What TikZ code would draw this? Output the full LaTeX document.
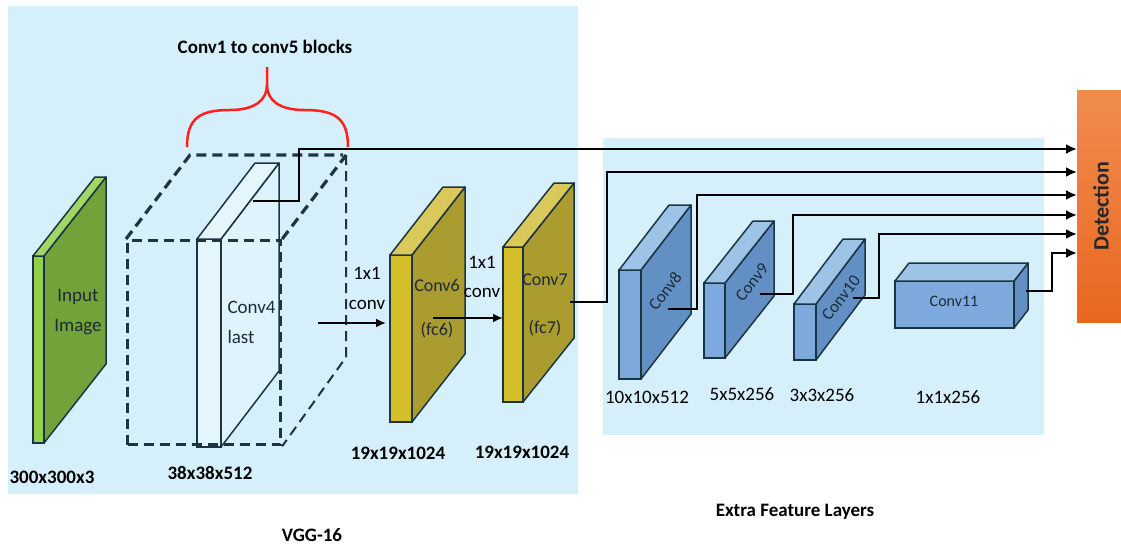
\documentclass[tikz,border=0pt]{standalone}
\usepackage{fontspec}
\setmainfont{Carlito}
\usetikzlibrary{arrows.meta,positioning,calc}

\definecolor{panelblue}{RGB}{213,240,250}
\definecolor{slabline}{RGB}{27,52,67}
\definecolor{cubeline}{RGB}{28,53,64}
\definecolor{inktext}{RGB}{30,43,56}
\definecolor{grnfront}{RGB}{146,208,80}
\definecolor{grnside}{RGB}{116,162,58}
\definecolor{grntop}{RGB}{160,214,100}
\definecolor{palefront}{RGB}{228,246,252}
\definecolor{paleside}{RGB}{222,243,251}
\definecolor{paletop}{RGB}{228,246,252}
\definecolor{goldfront}{RGB}{212,190,42}
\definecolor{goldside}{RGB}{170,156,46}
\definecolor{goldtop}{RGB}{217,200,90}
\definecolor{blufront}{RGB}{126,169,220}
\definecolor{bluside}{RGB}{99,144,196}
\definecolor{blutop}{RGB}{157,195,230}
\definecolor{dettop}{RGB}{241,140,80}
\definecolor{detbottom}{RGB}{232,103,30}
\definecolor{bracered}{RGB}{255,32,32}

\tikzset{
  slabface/.style={draw=slabline, line width=1.5pt, anchor=north west, inner sep=0pt, outer sep=0pt},
  slabedge/.style={draw=slabline, line width=1.5pt, line join=round},
  cubeedge/.style={draw=cubeline, line width=3.2pt, dash pattern=on 10pt off 6pt},
  feed/.style={line width=2.7pt, -{Latex[length=11pt,width=10pt]}},
  convarrow/.style={line width=2.7pt, -{Latex[length=10pt,width=9pt]}},
  dimlabel/.style={font=\fontsize{19}{22}\selectfont\bfseries},
  extlabel/.style={font=\fontsize{19}{22}\selectfont},
  slabtext/.style={text=inktext, font=\fontsize{18}{30}\selectfont, align=center},
  rottext/.style={text=inktext, font=\fontsize{17}{20}\selectfont, rotate=52}
}

% front face as a named node, side and top faces from its anchors
\newcommand{\cnnslab}[7]{%
  \node[slabface, fill=#7front, minimum width=#3pt, minimum height=#4pt] (#1) at (#2) {};
  \draw[slabedge, fill=#7side] (#1.north east) -- ++(#5,#6) -- ++(0,#4) -- (#1.south east) -- cycle;
  \draw[slabedge, fill=#7top] (#1.north west) -- ++(#5,#6) -- ++(#3,0) -- (#1.north east) -- cycle;
}

\begin{document}
\begin{tikzpicture}[x=1pt,y=-1pt]
\useasboundingbox (0,0) rectangle (1121,546);
% Panels
\fill[panelblue] (8,6) rectangle (578,494);
\fill[panelblue] (603,138) rectangle (1044,435);
\node[dimlabel] (vgg) at (312,535) {VGG-16};
\node[dimlabel] (extra) at (795,512) {Extra Feature Layers};

% Input image
\cnnslab{input}{33,256}{11}{187}{62}{-79}{grn}
\node[slabtext, font=\fontsize{19}{30}\selectfont] (inputtxt) at (78,312) {Input\\Image};
\node[dimlabel] (inputdim) at (52,477) {300x300x3};

% Conv4 last inside the dashed conv blocks
\cnnslab{c4}{197,239}{24}{208}{58}{-76}{pale}
\node[draw=cubeline, line width=3.2pt, dash pattern=on 10pt off 6pt, anchor=north west,
      inner sep=0pt, minimum width=153pt, minimum height=204pt] (cube) at (126,239) {};
\draw[cubeedge] (cube.north west) -- ++(64,-84) -- ++(153,0);
\draw[cubeedge] (cube.north east) -- ++(64,-84);
\draw[cubeedge, line width=2pt] ($(cube.north east)+(64,-84)$) -- ++(0,202) -- (cube.south east);
\node[slabtext, align=left, anchor=west, font=\fontsize{19}{30}\selectfont] (c4txt) at (224,322) {Conv4\\last};
\node[dimlabel] (c4dim) at (210,473) {38x38x512};

% Brace over conv1..conv5
\draw[bracered, line width=2.5pt] (187,147) .. controls (187,118) and (200,110) .. (230,110)
  .. controls (255,110) and (267,100) .. (267,85) -- (267,67);
\draw[bracered, line width=2.5pt] (348,147) .. controls (348,118) and (335,110) .. (304,110)
  .. controls (279,110) and (267,100) .. (267,85);
\node[dimlabel] (blocks) at (265,47) {Conv1 to conv5 blocks};

% Conv6 and Conv7
\cnnslab{c6}{390,255}{22}{167}{53}{-68}{gold}
\cnnslab{c7}{503,247}{20}{155}{51}{-64}{gold}
\node[slabtext] (c6a) at (437,285) {Conv6};
\node[slabtext] (c6b) at (437,330) {(fc6)};
\node[slabtext] (c7a) at (545,280) {Conv7};
\node[slabtext] (c7b) at (545,328) {(fc7)};
\node[dimlabel] (c6dim) at (398,453) {19x19x1024};
\node[dimlabel] (c7dim) at (522,452) {19x19x1024};

\coordinate (cubeout) at (318,323);
\coordinate (c6out) at (433,318);
\draw[convarrow, shorten >=4pt] (cubeout) -- (cubeout -| c6.west);
\draw[convarrow] (c6out) -- (c6out -| c7.west);
\node[slabtext, text=black, font=\fontsize{19}{30}\selectfont] (conv1) at (367,288) {1x1\\conv};
\node[slabtext, text=black, font=\fontsize{19}{29}\selectfont] (conv2) at (482,277) {1x1\\conv};

% Extra feature layers
\cnnslab{c8}{619,270}{22}{109}{50}{-65}{blu}
\cnnslab{c9}{704,283}{21}{75}{49}{-62}{blu}
\cnnslab{c10}{794,304}{22}{56}{49}{-65}{blu}
\cnnslab{c11}{895,281}{119}{47}{14}{-18}{blu}
\node[rottext] (c8txt) at (665,291) {Conv8};
\node[rottext] (c9txt) at (752,282) {Conv9};
\node[rottext] (c10txt) at (841,298) {Conv10};
\node[rottext, rotate=-52, font=\fontsize{16}{20}\selectfont] (c11txt) at (954,301) {Conv11};
\node[extlabel] (c8dim) at (647,397) {10x10x512};
\node[extlabel] (c9dim) at (742,394) {5x5x256};
\node[extlabel] (c10dim) at (822,395) {3x3x256};
\node[extlabel] (c11dim) at (948,397) {1x1x256};

% Detection
\node[top color=dettop, bottom color=detbottom, minimum width=46pt, minimum height=232pt,
      inner sep=0pt, anchor=north west] (det) at (1077,90) {};
\node[rotate=90, font=\fontsize{22}{24}\selectfont\bfseries, text=black!85] (dettxt) at (1101,206) {Detection};
\foreach \i/\yy in {1/149,2/172,3/195,4/215,5/234,6/253}
  \coordinate (in\i) at (det.west |- 0,\yy);

% Taps into detection
\coordinate (c4tap) at (253,201);
\coordinate (c7tap) at (570,302);
\coordinate (c8tap) at (668,309);
\coordinate (c9tap) at (760,294);
\coordinate (c10tap) at (853,298);
\coordinate (c11tap) at (1026,291);
\foreach \src/\dx/\dst in {c4tap/46/in1,c7tap/37/in2,c8tap/29/in3,c9tap/33/in4,c10tap/26/in5,c11tap/26/in6}
  \draw[feed] (\src) -- ++(\dx,0) |- (\dst);
\end{tikzpicture}
\end{document}
